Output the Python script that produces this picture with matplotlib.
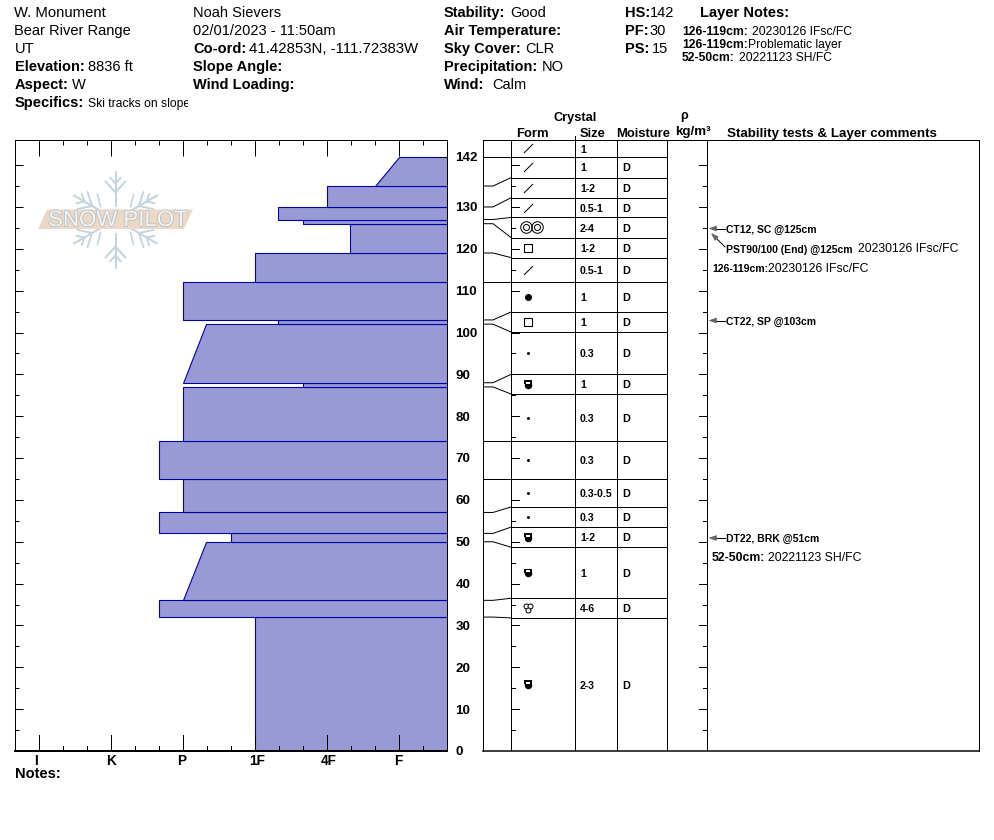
import matplotlib
matplotlib.use('Agg')
import matplotlib.pyplot as plt
import matplotlib.patheffects as pe
import numpy as np
from matplotlib.path import Path
from matplotlib.transforms import Bbox

plt.rcParams['font.family'] = ['Liberation Sans', 'DejaVu Sans']

W, H = 994, 840
PX = 0.72  # one pixel in points at dpi 100

# hardness scale: I=0, K=1, P=2, 1F=3, 4F=4, F=5
hardness_labels = ['I', 'K', 'P', '1F', '4F', 'F']
hardness_label_px = [36, 111, 182, 257, 329, 398]
depth_labels = [0, 10, 20, 30, 40, 50, 60, 70, 80, 90, 100, 110, 120, 130, 142]

# snow layers, bottom to top (cm), hardness at layer bottom and at layer top
layer_bottom = [0, 32, 36, 50, 52, 57, 65, 74, 87, 88, 102, 103, 112, 119, 126, 127, 130, 135]
layer_top = [32, 36, 50, 52, 57, 65, 74, 87, 88, 102, 103, 112, 119, 126, 127, 130, 135, 142]
hard_bottom = [3, 1.667, 2, 2.667, 1.667, 2, 1.667, 2, 3.667, 2, 3.333, 2, 3, 4.333, 3.667, 3.333, 4, 4.68]
hard_top = [3, 1.667, 2.333, 2.667, 1.667, 2, 1.667, 2, 3.667, 2.333, 3.333, 2, 3, 4.333, 3.667, 3.333, 4, 5]

# table rows, top to bottom. row_edges are the ruled lines on the cm scale
row_edges = [146, 142, 137, 132.2, 127.5, 122.7, 117.9, 112, 104.9, 100.1, 90, 85.3, 74, 65,
             58.3, 53.5, 48.7, 36.5, 31.8, 0]
row_forms = ['slash', 'slash', 'slash', 'slash', 'dbl', 'square', 'slash', 'disc', 'square', 'dot',
             'half', 'dot', 'dot', 'dot', 'dot', 'half', 'half', 'tri', 'half']
row_sizes = ['1', '1', '1-2', '0.5-1', '2-4', '1-2', '0.5-1', '1', '1', '0.3', '1', '0.3', '0.3',
             '0.3-0.5', '0.3', '1-2', '1', '4-6', '2-3']
row_moisture = [''] + ['D'] * 18


def add_axes_px(x0, y0, x1, y1):
    # pixel box, y measured from the top of the image
    return fig.add_axes([x0 / W, 1 - y1 / H, (x1 - x0) / W, (y1 - y0) / H])


fig = plt.figure(figsize=(W / 100, H / 100), dpi=100, facecolor='white')

####################################### Hardness profile
ax = add_axes_px(14.5, 140, 446.5, 751)
ax.set_xlim(-1 / 3, 5 + 2 / 3)
ax.set_ylim(0, 146)
for b, t, hb, ht in zip(layer_bottom, layer_top, hard_bottom, hard_top):
    xmax = 5 + 2 / 3 + 0.1
    ax.fill([hb, xmax, xmax, ht], [b, b, t, t], facecolor='#9999d6', edgecolor='#0000a0', lw=PX * 1.1, zorder=2)

ax.set_xticks(range(6))
ax.set_xticklabels([])
ax.set_xticks([i / 3 for i in range(0, 17) if i % 3], minor=True)
ax.tick_params(axis='x', which='major', direction='in', top=True, bottom=False, length=16 * PX, width=PX, zorder=5)
ax.tick_params(axis='x', which='minor', direction='in', top=True, bottom=False, length=5 * PX, width=PX, zorder=5)
# bottom ticks drawn by hand, same lengths as the top ones
xt = ax.get_xaxis_transform()
for i in range(0, 17):
    frac = 16 / 611 if i % 3 == 0 else 5 / 611
    ax.plot([i / 3, i / 3], [0, frac], transform=xt, color='black', lw=PX, zorder=5)
ax.set_yticks(range(0, 141, 10))
ax.set_yticklabels([])
ax.set_yticks(range(5, 136, 10), minor=True)
ax.tick_params(axis='y', which='major', direction='in', left=True, right=True, length=8 * PX, width=PX)
ax.tick_params(axis='y', which='minor', direction='in', left=True, right=True, length=4 * PX, width=PX)
for s in ax.spines.values():
    s.set_linewidth(PX)
    s.set_zorder(6)
ax.spines['bottom'].set_linewidth(PX * 2)
for v in depth_labels:
    ax.annotate(str(v), (1, v), xycoords=ax.get_yaxis_transform(), xytext=(6.5, -1), textcoords='offset points',
                fontsize=9.6, fontweight='bold', va='center')
ax.plot([1, 0.982], [142, 142], transform=ax.get_yaxis_transform(), color='black', lw=PX, clip_on=False, zorder=5)

####################################### Layer table
tb = add_axes_px(483, 140, 979, 751)
tb.set_xlim(483, 979)
tb.set_ylim(0, 146)
tb.set_xticks([])
tb.set_yticks([])
for s in tb.spines.values():
    s.set_linewidth(PX)
tb.spines['bottom'].set_linewidth(PX * 1.5)
for x in [511, 575, 617, 667, 707]:
    tb.plot([x, x], [0, 146], color='black', lw=PX)
for e in row_edges[1:-1]:
    tb.plot([511, 667], [e, e], color='black', lw=PX)

# connectors from the true layer height to the ruled table rows
for top, edge in zip(layer_top, row_edges[-2::-1]):
    tb.plot([483, 493, 511], [top, top, edge], color='black', lw=PX)

# ticks on the form and density columns
for y in range(5, 141, 5):
    n = 8 if y % 10 == 0 else 4
    tb.plot([511, 511 + n], [y, y], color='black', lw=PX)
    tb.plot([707, 707 - n], [y, y], color='black', lw=PX)

slash = Path([(-1, -1), (1, 1)])
half_top = Path([(-1, 0), (1, 0), (1, 1), (-1, 1), (-1, 0)], closed=True)
notch = Path([(-1, -0.4), (1, -0.4), (1, 0.4), (-1, 0.4), (-1, -0.4)], closed=True)
for i, (form, size, moist) in enumerate(zip(row_forms, row_sizes, row_moisture)):
    yc = (row_edges[i] + row_edges[i + 1]) / 2
    if form == 'slash':
        tb.plot(528, yc, marker=slash, ms=9 * PX, mew=PX, color='black')
    elif form == 'dbl':
        for x in (525.5, 536.5):
            tb.plot(x, yc, marker='o', ms=11.5 * PX, mfc='none', mec='black', mew=PX)
            tb.plot(x, yc, marker='o', ms=6 * PX, mfc='none', mec='black', mew=PX)
    elif form == 'square':
        tb.plot(528, yc, marker='s', ms=7.5 * PX, mfc='none', mec='black', mew=PX * 1.1)
    elif form == 'disc':
        tb.plot(528, yc, marker='o', ms=7 * PX, color='black', mew=0)
    elif form == 'dot':
        tb.plot(528, yc, marker='o', ms=3 * PX, color='black', mew=0)
    elif form == 'half':
        tb.plot(528, yc, marker=half_top, ms=7.5 * PX, color='black', mew=0)
        tb.plot(528, yc - 0.1, marker='o', ms=7.5 * PX, color='black', mew=0)
        tb.plot(528, yc + 0.38, marker=notch, ms=5 * PX, color='white', mew=0)
    elif form == 'tri':
        for dx, dy in [(-2, 0.45), (2, 0.45), (0, -0.45)]:
            tb.plot(528 + dx, yc + dy, marker='o', ms=5 * PX, mfc='white', mec='black', mew=PX)
    tb.text(580, yc - 0.3, size, fontsize=7.6, fontweight='bold', va='center')
    tb.text(622, yc - 0.3, moist, fontsize=7.8, fontweight='bold', va='center')

####################################### Overlay in pixel coordinates, for header and notes
ov = fig.add_axes([0, 0, 1, 1])
ov.set_xlim(0, W)
ov.set_ylim(H, 0)
ov.axis('off')
ov.patch.set_alpha(0)


def txt(x, y, s, bold=False, size=10.5, **kw):
    return ov.text(x, y + 1, s, fontsize=size, fontweight='bold' if bold else 'normal', va='center', **kw)


for x, lab in zip(hardness_label_px, hardness_labels):
    txt(x, 760, lab, True, 9.8, ha='center')

txt(14.5, 12, 'W. Monument', size=10.7)
txt(14.5, 30, 'Bear River Range')
txt(14.5, 48, 'UT')
txt(14.5, 66, 'Elevation:', True); txt(88, 66, '8836 ft')
txt(14.5, 84, 'Aspect:', True); txt(72, 84, 'W')
txt(14.5, 102, 'Specifics:', True)
t = txt(88, 103, 'Ski tracks on slope', size=8.7)
t.set_clip_box(Bbox([[0, 0], [188, H]]))
t.set_clip_on(True)

txt(193, 12, 'Noah Sievers')
txt(193, 30, '02/01/2023 - 11:50am')
txt(193, 48, 'Co-ord:', True); txt(249, 48, '41.42853N, -111.72383W', size=10.8)
txt(193, 66, 'Slope Angle:', True)
txt(193, 84, 'Wind Loading:', True)

txt(444, 12, 'Stability:', True); txt(510, 12, 'Good')
txt(444, 30, 'Air Temperature:', True)
txt(444, 48, 'Sky Cover:', True); txt(525, 48, 'CLR')
txt(444, 66, 'Precipitation:', True); txt(542, 66, 'NO')
txt(444, 84, 'Wind:', True); txt(492, 84, 'Calm')

txt(625, 12, 'HS:', True); txt(649.5, 12, '142')
txt(625, 30, 'PF:', True); txt(649, 30, '30')
txt(625, 48, 'PS:', True); txt(652, 48, '15')
txt(700, 12, 'Layer Notes:', True)
txt(682, 31, '126-119cm:', True, 8.7); txt(752, 31, '20230126 IFsc/FC', size=8.7)
txt(682, 44, '126-119cm:', True, 8.7); txt(748, 44, 'Problematic layer', size=8.7)
txt(682, 57, '52-50cm:', True, 8.7); txt(739, 57, '20221123 SH/FC', size=8.7)

# column headers
txt(554, 117.5, 'Crystal', True, 9.2)
txt(516, 133, 'Form', True, 9.4)
txt(580, 133, 'Size', True, 9.4)
txt(616, 133, 'Moisture', True, 9.4)
txt(684, 114.5, 'ρ', True, 9, ha='center')
txt(675, 131.5, 'kg/m³', True, 9.6)
txt(727, 133, 'Stability tests & Layer comments', True, 9.6)
ov.plot([575, 575], [136, 140], color='black', lw=PX)

# stability tests and layer comments
arrow = dict(arrowstyle='-|>,head_length=0.45,head_width=0.16', color='#666666', lw=PX, shrinkA=0, shrinkB=0)
for y, label in [(228.5, 'CT12, SC @125cm'), (320.5, 'CT22, SP @103cm'), (538, 'DT22, BRK @51cm')]:
    ov.annotate('', xy=(708.5, y), xytext=(716, y), arrowprops=arrow)
    ov.plot([716, 725], [y, y], color='black', lw=PX)
    txt(726, y, label, True, 7.5)
ov.annotate('', xy=(711, 233), xytext=(717, 239), arrowprops=arrow)
ov.plot([717, 725], [239, 247], color='black', lw=PX)
txt(726, 248.5, 'PST90/100 (End) @125cm', True, 7.5)
txt(858, 248.5, '20230126 IFsc/FC', size=8.8)
txt(712, 268.5, '126-119cm:', True, 7.6); txt(768, 268.5, '20230126 IFsc/FC', size=8.8)
txt(712, 557, '52-50cm:', True, 8.8); txt(768, 557, '20221123 SH/FC', size=8.8)

txt(14.5, 773.5, 'Notes:', True)

####################################### Snow Pilot logo
flake = '#c6d4de'
cx, cy = 115.5, 219.5
for ang in np.deg2rad([90, 30, -30, -90, -150, 150]):
    ux, uy = np.cos(ang), -np.sin(ang)
    ov.plot([cx + 14 * ux, cx + 48 * ux], [cy + 14 * uy, cy + 48 * uy], color=flake, lw=1.5, solid_capstyle='round')
    for dist, length in [(27, 15), (36, 8)]:
        for side in (-1, 1):
            a2 = ang + side * np.deg2rad(42)
            bx, by = cx + dist * ux, cy + dist * uy
            ov.plot([bx, bx + length * np.cos(a2)], [by, by - length * np.sin(a2)], color=flake, lw=1.4,
                    solid_capstyle='round')
for sx in (-1, 1):
    for sy in (-1, 1):
        ov.plot([cx + sx * 15, cx + sx * 18], [cy + sy * 13, cy + sy * 25], color=flake, lw=1.2)
ov.fill([38, 184, 193, 47], [229, 229, 209.5, 209.5], color='#ecd8c6', lw=0, zorder=3)
ov.text(118, 220.5, 'SNOW PILOT', fontsize=16, color='#f4f4f4', ha='center', va='center', zorder=4,
        path_effects=[pe.withStroke(linewidth=1.2, foreground='#b8bec2')])

fig.savefig('out.png', dpi=100)
